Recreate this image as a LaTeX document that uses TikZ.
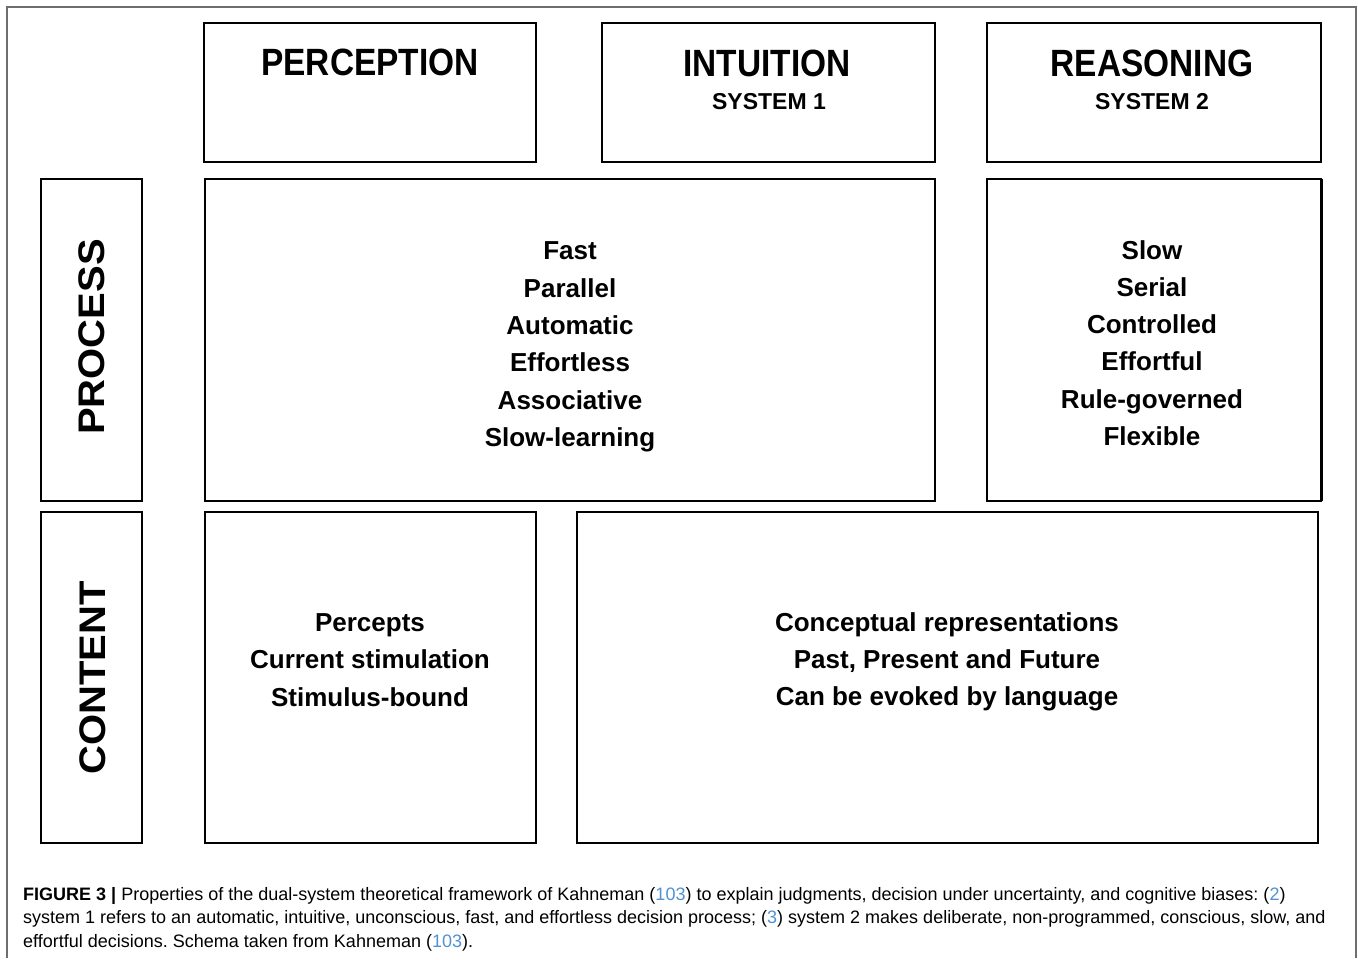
\documentclass[tikz,border=0pt]{standalone}
\usepackage{fontspec}
\setmainfont{Liberation Sans}
\frenchspacing
\definecolor{linkblue}{RGB}{80,145,210}
\definecolor{framegray}{RGB}{110,110,110}
\tikzset{
  box/.style={draw=black, line width=1.6pt, rectangle, inner sep=0pt, outer sep=0pt, fill=none},
  head/.style={font=\bfseries\fontsize{38}{40}\selectfont, inner sep=0pt},
  sub/.style={font=\bfseries\fontsize{23}{25}\selectfont, inner sep=0pt},
  side/.style={font=\bfseries\fontsize{37}{40}\selectfont, inner sep=0pt, rotate=90},
  body/.style={font=\bfseries\fontsize{26}{37.3}\selectfont, align=center, inner sep=0pt},
  captxt/.style={font=\fontsize{18}{20}\selectfont, anchor=base west, inner sep=0pt},
}
\newcommand{\hs}[1]{\scalebox{0.88}[1]{#1}}
\newcommand{\vs}[1]{\scalebox{1.08}[1]{#1}}
\newcommand{\lk}[1]{\textcolor{linkblue}{#1}}
\begin{document}
\begin{tikzpicture}[x=1pt,y=-1pt]
\useasboundingbox (0,0) rectangle (1358,959);
\draw[framegray, line width=1.2pt] (7,957.5) -- (7,7) -- (1356,7) -- (1356,957.5);
% header boxes
\node[box, minimum width=332pt, minimum height=139pt] (perc) at (370,92.5) {};
\node[box, minimum width=333pt, minimum height=139pt] (intu) at (768.5,92.5) {};
\node[box, minimum width=334pt, minimum height=139pt] (reas) at (1154,92.5) {};
\node[head] (percT) at (370,62) {\hs{PERCEPTION}};
\node[head] (intuT) at (767,63) {\hs{INTUITION}};
\node[sub] (intuS) at (769,102) {SYSTEM 1};
\node[head] (reasT) at (1152,63) {\hs{REASONING}};
\node[sub] (reasS) at (1152,102) {SYSTEM 2};
% process row
\node[box, minimum width=101pt, minimum height=322pt] (proc) at (91.5,340) {};
\node[box, minimum width=730pt, minimum height=322pt] (fastbox) at (570,340) {};
\node[box, minimum width=334pt, minimum height=322pt] (slowbox) at (1154,340) {};
\draw[line width=3pt] (slowbox.north east) -- (slowbox.south east);
\draw[line width=2.6pt] (reas.north east) -- (reas.south east);
\node[side] (procT) at (92,337) {\vs{PROCESS}};
\node[body] (fastT) at (570,347) {Fast\\Parallel\\Automatic\\Effortless\\Associative\\Slow-learning};
\node[body] (slowT) at (1152,343) {Slow\\Serial\\Controlled\\Effortful\\Rule-governed\\Flexible};
% content row
\node[box, minimum width=101pt, minimum height=331pt] (cont) at (91.5,677.5) {};
\node[box, minimum width=331pt, minimum height=331pt] (percbox) at (370.5,677.5) {};
\node[box, minimum width=741pt, minimum height=331pt] (concbox) at (947.5,677.5) {};
\node[side] (contT) at (93,678) {\vs{CONTENT}};
\node[body] (percptT) at (370,660) {Percepts\\Current stimulation\\Stimulus-bound};
\node[body] (concT) at (947,662) {Conceptual representations\\Past, Present and Future\\Can be evoked by language};
% caption
\node[captxt] (cap1) at (23,900) {\textbf{FIGURE 3} \textbf{|} Properties of the dual-system theoretical framework of Kahneman (\lk{103}) to explain judgments, decision under uncertainty, and cognitive biases: (\lk{2})};
\node[captxt] (cap2) at (23,923.5) {system 1 refers to an automatic, intuitive, unconscious, fast, and effortless decision process; (\lk{3}) system 2 makes deliberate, non-programmed, conscious, slow, and};
\node[captxt] (cap3) at (23,947) {effortful decisions. Schema taken from Kahneman (\lk{103}).};
\end{tikzpicture}
\end{document}
